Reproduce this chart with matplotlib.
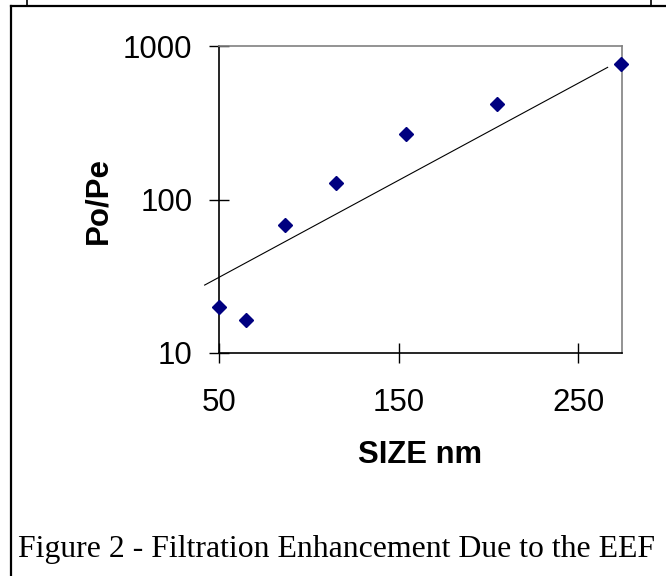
import matplotlib
matplotlib.use("Agg")
import matplotlib.pyplot as plt
from matplotlib.lines import Line2D

# Data
size_nm = [50, 65, 87, 115, 154, 205, 274]
po_pe = [20, 16.5, 68, 128, 266, 421, 764]

# Exponential trendline endpoints
trend_x = [42, 266.5]
trend_y = [27.7, 726]

x_ticks = [50, 150, 250]
x_tick_labels = ["50", "150", "250"]
y_ticks = [10, 100, 1000]
y_tick_labels = ["10", "100", "1000"]

fig = plt.figure(figsize=(6.66, 5.76), dpi=100)
ax = fig.add_axes([219/666, 1-353/576, (622-219)/666, (353-46)/576])

ax.set_yscale("log")
ax.set_xlim(50, 274.5)
ax.set_ylim(10, 1000)

ax.plot(trend_x, trend_y, color="black", lw=0.8, clip_on=False, zorder=2)
ax.plot(size_nm, po_pe, linestyle="none", marker="D", ms=7.5,
        color="#000080", clip_on=False, zorder=3)

ax.set_xticks(x_ticks)
ax.set_xticklabels(x_tick_labels)
ax.set_yticks(y_ticks)
ax.set_yticklabels(y_tick_labels)
ax.minorticks_off()
ax.tick_params(axis="both", direction="inout", length=14, width=1,
               labelsize=22.5, colors="black")
ax.tick_params(axis="x", pad=18)
ax.tick_params(axis="y", pad=12)
for lab in ax.get_xticklabels() + ax.get_yticklabels():
    lab.set_family("Liberation Sans")

for s in ["left", "bottom"]:
    ax.spines[s].set_color("black")
    ax.spines[s].set_linewidth(1.2)
for s in ["top", "right"]:
    ax.spines[s].set_color("#808080")
    ax.spines[s].set_linewidth(1.2)

fig.text(420/666, 1-455/576, "SIZE nm", ha="center", va="center",
         fontsize=22.3, fontweight="bold", family="Liberation Sans")
fig.text(98/666, 1-200/576, "Po/Pe", ha="center", va="center", rotation=90,
         fontsize=22.5, fontweight="bold", family="Liberation Sans")

fig.text(18/666, 1-550/576, "Figure 2 - Filtration Enhancement Due to the EEF",
         ha="left", va="center", fontsize=22.9, family="Liberation Serif")

# page frame lines
fig.add_artist(Line2D([11/666, 1], [1-5.5/576, 1-5.5/576], color="black",
                      lw=1.6, transform=fig.transFigure))
fig.add_artist(Line2D([11/666, 11/666], [0, 1-5.5/576], color="black",
                      lw=1.6, transform=fig.transFigure))
fig.add_artist(Line2D([27/666, 27/666], [1-5.5/576, 1], color="black",
                      lw=1.2, transform=fig.transFigure))
fig.add_artist(Line2D([651/666, 651/666], [1-5.5/576, 1], color="black",
                      lw=1.2, transform=fig.transFigure))

fig.savefig("out.png", dpi=100)
